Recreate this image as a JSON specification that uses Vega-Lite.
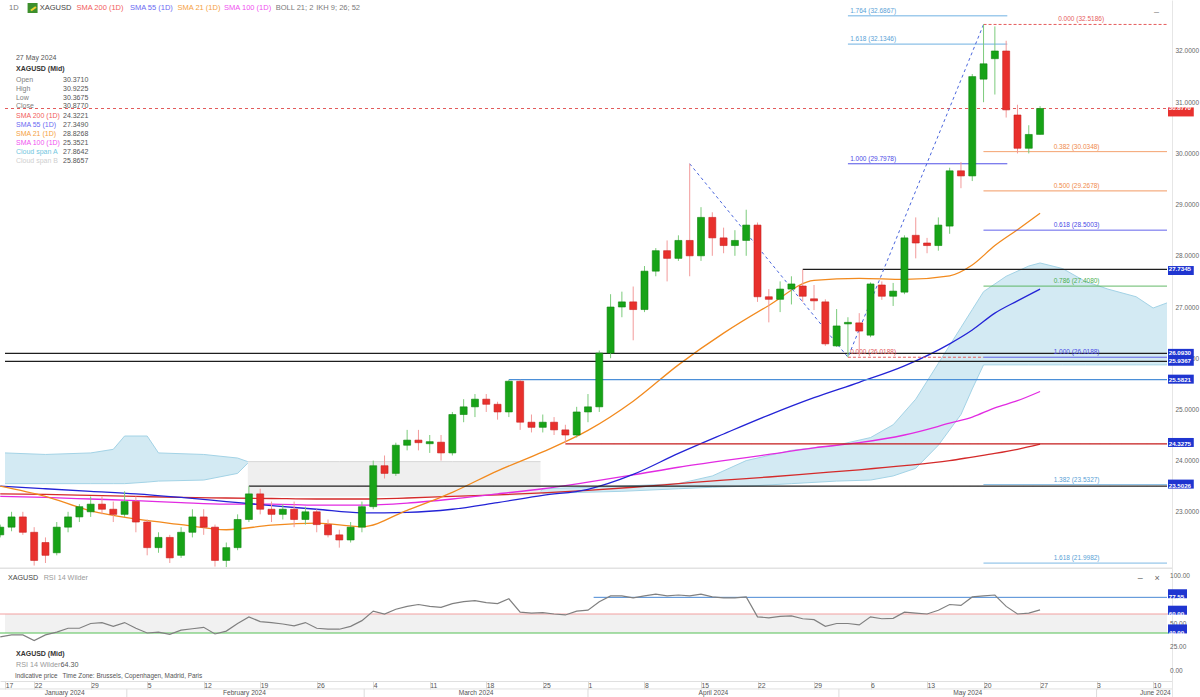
{
"$schema":"https://vega.github.io/schema/vega-lite/v6.json",
"autosize":"none",
"padding":{"left":0,"top":0,"right":28,"bottom":0},
"width":1172,
"height":697,
"background":"#ffffff",
"config":{"font":"Liberation Sans","view":{"stroke":null},"axis":{"grid":false,"ticks":false,"domainColor":"#e6e6e6","labelColor":"#666666","labelFont":"Liberation Sans","labelFontSize":6.5}},
"resolve":{"scale":{"y":"independent","color":"independent"},"axis":{"x":"independent","y":"independent"}},
"datasets":{
"candles":[
{"i":0,"o":22.55,"h":22.75,"l":22.5,"c":22.7},{"i":1,"o":22.7,"h":23.0,"l":22.62,"c":22.9},{"i":2,"o":22.9,"h":23.0,"l":22.55,"c":22.6},{"i":3,"o":22.6,"h":22.7,"l":21.95,"c":22.05},{"i":4,"o":22.4,"h":22.5,"l":22.0,"c":22.15},{"i":5,"o":22.2,"h":22.8,"l":22.15,"c":22.7},{"i":6,"o":22.7,"h":23.0,"l":22.6,"c":22.9},{"i":7,"o":22.9,"h":23.15,"l":22.8,"c":23.1},{"i":8,"o":23.0,"h":23.3,"l":22.9,"c":23.15},{"i":9,"o":23.15,"h":23.3,"l":22.95,"c":23.05},
{"i":10,"o":23.05,"h":23.2,"l":22.8,"c":22.95},{"i":11,"o":22.95,"h":23.4,"l":22.9,"c":23.2},{"i":12,"o":23.2,"h":23.3,"l":22.6,"c":22.8},{"i":13,"o":22.8,"h":22.85,"l":22.15,"c":22.3},{"i":14,"o":22.3,"h":22.6,"l":22.2,"c":22.5},{"i":15,"o":22.5,"h":22.55,"l":22.0,"c":22.1},{"i":16,"o":22.15,"h":22.7,"l":22.1,"c":22.6},{"i":17,"o":22.6,"h":23.05,"l":22.5,"c":22.9},{"i":18,"o":22.9,"h":23.05,"l":22.55,"c":22.7},{"i":19,"o":22.7,"h":22.75,"l":21.93,"c":22.05},
{"i":20,"o":22.05,"h":22.4,"l":21.92,"c":22.3},{"i":21,"o":22.3,"h":22.95,"l":22.25,"c":22.85},{"i":22,"o":22.85,"h":23.5,"l":22.8,"c":23.35},{"i":23,"o":23.35,"h":23.45,"l":22.95,"c":23.05},{"i":24,"o":23.05,"h":23.2,"l":22.8,"c":22.95},{"i":25,"o":22.95,"h":23.15,"l":22.85,"c":23.05},{"i":26,"o":23.05,"h":23.2,"l":22.7,"c":22.85},{"i":27,"o":22.85,"h":23.1,"l":22.75,"c":23.0},{"i":28,"o":23.0,"h":23.05,"l":22.6,"c":22.75},{"i":29,"o":22.75,"h":22.85,"l":22.5,"c":22.55},
{"i":30,"o":22.55,"h":22.65,"l":22.3,"c":22.45},{"i":31,"o":22.45,"h":22.8,"l":22.4,"c":22.7},{"i":32,"o":22.7,"h":23.2,"l":22.6,"c":23.1},{"i":33,"o":23.1,"h":24.0,"l":23.05,"c":23.9},{"i":34,"o":23.9,"h":24.1,"l":23.65,"c":23.75},{"i":35,"o":23.75,"h":24.35,"l":23.7,"c":24.3},{"i":36,"o":24.3,"h":24.6,"l":24.2,"c":24.4},{"i":37,"o":24.4,"h":24.6,"l":24.2,"c":24.35},{"i":38,"o":24.33,"h":24.5,"l":24.15,"c":24.37},{"i":39,"o":24.36,"h":24.5,"l":24.0,"c":24.15},
{"i":40,"o":24.15,"h":24.95,"l":24.1,"c":24.9},{"i":41,"o":24.9,"h":25.2,"l":24.75,"c":25.05},{"i":42,"o":25.05,"h":25.3,"l":24.85,"c":25.2},{"i":43,"o":25.2,"h":25.3,"l":24.95,"c":25.1},{"i":44,"o":25.1,"h":25.15,"l":24.8,"c":24.95},{"i":45,"o":24.95,"h":25.58,"l":24.85,"c":25.55},{"i":46,"o":25.55,"h":25.58,"l":24.6,"c":24.75},{"i":47,"o":24.75,"h":24.9,"l":24.55,"c":24.65},{"i":48,"o":24.65,"h":24.9,"l":24.55,"c":24.75},{"i":49,"o":24.75,"h":24.85,"l":24.5,"c":24.6},
{"i":50,"o":24.6,"h":24.7,"l":24.33,"c":24.5},{"i":51,"o":24.5,"h":25.05,"l":24.45,"c":24.95},{"i":52,"o":24.95,"h":25.3,"l":24.75,"c":25.05},{"i":53,"o":25.05,"h":26.15,"l":24.95,"c":26.1},{"i":54,"o":26.1,"h":27.25,"l":26.0,"c":27.0},{"i":55,"o":27.0,"h":27.3,"l":26.8,"c":27.1},{"i":56,"o":27.1,"h":27.4,"l":26.35,"c":26.95},{"i":57,"o":26.95,"h":27.8,"l":26.9,"c":27.7},{"i":58,"o":27.7,"h":28.15,"l":27.6,"c":28.1},{"i":59,"o":28.1,"h":28.3,"l":27.5,"c":27.95},
{"i":60,"o":27.95,"h":28.4,"l":27.9,"c":28.3},{"i":61,"o":28.3,"h":29.8,"l":27.6,"c":28.0},{"i":62,"o":28.0,"h":28.95,"l":27.9,"c":28.75},{"i":63,"o":28.75,"h":28.85,"l":28.0,"c":28.35},{"i":64,"o":28.35,"h":28.55,"l":28.05,"c":28.2},{"i":65,"o":28.2,"h":28.5,"l":28.0,"c":28.3},{"i":66,"o":28.3,"h":28.9,"l":28.0,"c":28.6},{"i":67,"o":28.6,"h":28.65,"l":27.1,"c":27.2},{"i":68,"o":27.2,"h":27.35,"l":26.7,"c":27.15},{"i":69,"o":27.15,"h":27.5,"l":26.9,"c":27.35},
{"i":70,"o":27.35,"h":27.6,"l":27.05,"c":27.45},{"i":71,"o":27.41,"h":27.73,"l":27.1,"c":27.21},{"i":72,"o":27.16,"h":27.43,"l":26.94,"c":27.12},{"i":73,"o":27.1,"h":27.15,"l":26.24,"c":26.28},{"i":74,"o":26.24,"h":26.96,"l":26.22,"c":26.63},{"i":75,"o":26.67,"h":26.8,"l":26.02,"c":26.7},{"i":76,"o":26.69,"h":26.88,"l":26.04,"c":26.53},{"i":77,"o":26.45,"h":27.48,"l":26.41,"c":27.45},{"i":78,"o":27.43,"h":27.5,"l":27.14,"c":27.21},{"i":79,"o":27.21,"h":27.47,"l":27.02,"c":27.31},
{"i":80,"o":27.29,"h":28.4,"l":27.25,"c":28.35},{"i":81,"o":28.4,"h":28.75,"l":27.95,"c":28.25},{"i":82,"o":28.25,"h":28.35,"l":28.05,"c":28.2},{"i":83,"o":28.2,"h":28.75,"l":28.1,"c":28.6},{"i":84,"o":28.58,"h":29.72,"l":28.43,"c":29.66},{"i":85,"o":29.66,"h":29.83,"l":29.32,"c":29.56},{"i":86,"o":29.56,"h":31.55,"l":29.46,"c":31.5},{"i":87,"o":31.45,"h":32.52,"l":31.0,"c":31.75},{"i":88,"o":31.85,"h":32.48,"l":31.15,"c":32.0},{"i":89,"o":32.0,"h":32.2,"l":30.7,"c":30.85},
{"i":90,"o":30.75,"h":30.95,"l":30.0,"c":30.1},{"i":91,"o":30.1,"h":30.55,"l":30.0,"c":30.37},{"i":92,"o":30.371,"h":30.9225,"l":30.3675,"c":30.877}],
"sma":[
{"i":0,"s200":23.35,"s100":23.3,"s55":23.5,"s21":23.5},{"i":4,"s200":23.34,"s100":23.28,"s55":23.45,"s21":23.3},{"i":8,"s200":23.32,"s100":23.25,"s55":23.4,"s21":23.02},{"i":12,"s200":23.3,"s100":23.22,"s55":23.35,"s21":22.86},{"i":16,"s200":23.28,"s100":23.18,"s55":23.28,"s21":22.75},{"i":20,"s200":23.27,"s100":23.15,"s55":23.2,"s21":22.65},{"i":24,"s200":23.26,"s100":23.15,"s55":23.12,"s21":22.74},{"i":28,"s200":23.25,"s100":23.13,"s55":23.05,"s21":22.78},{"i":32,"s200":23.25,"s100":23.13,"s55":22.98,"s21":22.71},{"i":36,"s200":23.27,"s100":23.17,"s55":22.99,"s21":23.03},{"i":40,"s200":23.3,"s100":23.25,"s55":23.05,"s21":23.38},{"i":44,"s200":23.33,"s100":23.35,"s55":23.18,"s21":23.8},{"i":48,"s200":23.37,"s100":23.45,"s55":23.32,"s21":24.17},{"i":52,"s200":23.42,"s100":23.58,"s55":23.44,"s21":24.59},{"i":56,"s200":23.48,"s100":23.72,"s55":23.73,"s21":25.16},{"i":60,"s200":23.55,"s100":23.87,"s55":24.14,"s21":25.87},{"i":64,"s200":23.62,"s100":24.0,"s55":24.52,"s21":26.49},{"i":68,"s200":23.68,"s100":24.12,"s55":24.89,"s21":27.03},{"i":72,"s200":23.75,"s100":24.25,"s55":25.23,"s21":27.52},{"i":76,"s200":23.82,"s100":24.35,"s55":25.53,"s21":27.56},{"i":80,"s200":23.9,"s100":24.5,"s55":25.85,"s21":27.54},{"i":84,"s200":24.0,"s100":24.73,"s55":26.28,"s21":27.61},{"i":86,"s200":24.07,"s100":24.85,"s55":26.55,"s21":27.82},{"i":88,"s200":24.14,"s100":25.03,"s55":26.88,"s21":28.2},{"i":90,"s200":24.22,"s100":25.17,"s55":27.12,"s21":28.51},{"i":92,"s200":24.32,"s100":25.35,"s55":27.35,"s21":28.83}],
"cloudUp":[
{"s":"u1","i":0.42,"a":24.15,"b":23.55},{"s":"u1","i":4,"a":24.12,"b":23.55},{"s":"u1","i":8,"a":24.15,"b":23.55},{"s":"u1","i":10,"a":24.22,"b":23.55},{"s":"u1","i":11,"a":24.48,"b":23.55},{"s":"u1","i":13,"a":24.48,"b":23.58},{"s":"u1","i":14,"a":24.15,"b":23.6},{"s":"u1","i":18,"a":24.12,"b":23.62},{"s":"u1","i":21,"a":24.05,"b":23.75},{"s":"u1","i":21.9,"a":23.98,"b":23.95},
{"s":"u2","i":47.8,"a":23.4,"b":23.38},{"s":"u2","i":48,"a":23.45,"b":23.36},{"s":"u2","i":55,"a":23.5,"b":23.4},{"s":"u2","i":60,"a":23.55,"b":23.45},{"s":"u2","i":63,"a":23.7,"b":23.48},{"s":"u2","i":66,"a":24.0,"b":23.5},{"s":"u2","i":70,"a":24.2,"b":23.55},{"s":"u2","i":74,"a":24.3,"b":23.6},{"s":"u2","i":77,"a":24.45,"b":23.62},{"s":"u2","i":79,"a":24.7,"b":23.7},{"s":"u2","i":81,"a":25.2,"b":23.85},{"s":"u2","i":83,"a":25.9,"b":24.3},{"s":"u2","i":85,"a":26.6,"b":24.9},{"s":"u2","i":86,"a":26.95,"b":25.4},{"s":"u2","i":87,"a":27.3,"b":25.87},{"s":"u2","i":89,"a":27.6,"b":25.87},{"s":"u2","i":91,"a":27.8,"b":25.87},{"s":"u2","i":92,"a":27.86,"b":25.87},{"s":"u2","i":94,"a":27.75,"b":25.87},{"s":"u2","i":96,"a":27.5,"b":25.87},{"s":"u2","i":98,"a":27.35,"b":25.87},{"s":"u2","i":100.5,"a":27.2,"b":25.87},{"s":"u2","i":102,"a":26.98,"b":25.87},{"s":"u2","i":103.23,"a":27.08,"b":25.87}],
"cloudDn":[
{"s":"d1","i":21.9,"a":23.3,"b":23.98},{"s":"d1","i":30,"a":23.3,"b":23.98},{"s":"d1","i":40,"a":23.3,"b":23.98},{"s":"d1","i":47.8,"a":23.32,"b":23.98}],
"levels":[
{"x0":0.42,"v":30.877,"kind":"last"},{"x0":71,"v":27.7345,"kind":"k"},{"x0":0.42,"v":26.093,"kind":"k"},{"x0":0.42,"v":25.9367,"kind":"k"},{"x0":45,"v":25.5821,"kind":"blue"},{"x0":50,"v":24.3275,"kind":"red"},{"x0":22,"v":23.5026,"kind":"k"}],
"fibs":[
{"x0":75,"x1":89.1,"v":32.6867,"kind":"lb","lbl":"1.764 (32.6867)","lx":75.2},
{"x0":75,"x1":89.1,"v":32.1346,"kind":"lb","lbl":"1.618 (32.1346)","lx":75.2},
{"x0":75,"x1":89.1,"v":29.7978,"kind":"b","lbl":"1.000 (29.7978)","lx":75.2},
{"x0":75,"x1":87,"v":26.0188,"kind":"r","lbl":"0.000 (26.0188)","lx":75.2},
{"x0":87,"x1":103.23,"v":32.5186,"kind":"r","lbl":"0.000 (32.5186)","lx":93.6},
{"x0":87,"x1":103.23,"v":30.0348,"kind":"o","lbl":"0.382 (30.0348)","lx":93.2},
{"x0":87,"x1":103.23,"v":29.2678,"kind":"o","lbl":"0.500 (29.2678)","lx":93.2},
{"x0":87,"x1":103.23,"v":28.5003,"kind":"b","lbl":"0.618 (28.5003)","lx":93.2},
{"x0":87,"x1":103.23,"v":27.408,"kind":"g","lbl":"0.786 (27.4080)","lx":93.2},
{"x0":87,"x1":103.23,"v":26.0188,"kind":"b","lbl":"1.000 (26.0188)","lx":93.2},
{"x0":87,"x1":103.23,"v":23.5327,"kind":"lb","lbl":"1.382 (23.5327)","lx":93.2},
{"x0":87,"x1":103.23,"v":21.9982,"kind":"lb","lbl":"1.618 (21.9982)","lx":93.2}],
"zigzag":[{"i":61,"v":29.7978},{"i":75,"v":26.0188},{"i":87,"v":32.5186}],
"hdr":[
{"i":0.77,"v":32.84,"t":"1D","k":"g"},{"i":3.49,"v":32.84,"t":"XAGUSD","k":"d"},{"i":6.74,"v":32.84,"t":"SMA 200 (1D)","k":"r"},{"i":11.47,"v":32.84,"t":"SMA 55 (1D)","k":"b"},{"i":15.68,"v":32.84,"t":"SMA 21 (1D)","k":"o"},{"i":19.8,"v":32.84,"t":"SMA 100 (1D)","k":"m"},{"i":24.37,"v":32.84,"t":"BOLL 21; 2","k":"g"},{"i":27.96,"v":32.84,"t":"IKH 9; 26; 52","k":"g"}],
"infoL":[
{"i":1.39,"v":31.863,"t":"27 May 2024","k":"d"},{"i":1.39,"v":31.434,"t":"Open","k":"g"},{"i":1.39,"v":31.258,"t":"High","k":"g"},{"i":1.39,"v":31.082,"t":"Low","k":"g"},{"i":1.39,"v":30.916,"t":"Close","k":"g"},{"i":1.39,"v":30.73,"t":"SMA 200 (1D)","k":"r"},{"i":1.39,"v":30.555,"t":"SMA 55 (1D)","k":"b"},{"i":1.39,"v":30.379,"t":"SMA 21 (1D)","k":"o"},{"i":1.39,"v":30.203,"t":"SMA 100 (1D)","k":"m"},{"i":1.39,"v":30.027,"t":"Cloud span A","k":"c"},{"i":1.39,"v":29.852,"t":"Cloud span B","k":"lg"}],
"infoR":[
{"i":7.79,"v":31.434,"t":"30.3710"},{"i":7.79,"v":31.258,"t":"30.9225"},{"i":7.79,"v":31.082,"t":"30.3675"},{"i":7.79,"v":30.916,"t":"30.8770"},{"i":7.79,"v":30.73,"t":"24.3221"},{"i":7.79,"v":30.555,"t":"27.3490"},{"i":7.79,"v":30.379,"t":"28.8268"},{"i":7.79,"v":30.203,"t":"25.3521"},{"i":7.79,"v":30.027,"t":"27.8642"},{"i":7.79,"v":29.852,"t":"25.8657"}],
"boxes":[
{"v":30.877,"t":"30.8770","kind":"last"},{"v":27.7345,"t":"27.7345","kind":"lvl"},{"v":26.093,"t":"26.0930","kind":"lvl"},{"v":25.9367,"t":"25.9367","kind":"lvl"},{"v":25.5821,"t":"25.5821","kind":"lvl"},{"v":24.3275,"t":"24.3275","kind":"lvl"},{"v":23.5026,"t":"23.5026","kind":"lvl"}],
"rsi":[
{"i":0,"v":36},{"i":1,"v":38},{"i":2,"v":38},{"i":3,"v":32},{"i":4,"v":38},{"i":5,"v":41},{"i":6,"v":45},{"i":7,"v":45},{"i":8,"v":50},{"i":9,"v":51},{"i":10,"v":47},{"i":11,"v":51},{"i":12,"v":45},{"i":13,"v":40},{"i":14,"v":41},{"i":15,"v":38.5},{"i":16,"v":43},{"i":17,"v":44.5},{"i":18,"v":46},{"i":19,"v":39},{"i":20,"v":42},{"i":21,"v":50},{"i":22,"v":57},{"i":23,"v":52},{"i":24,"v":51},{"i":25,"v":49.5},{"i":26,"v":47.5},{"i":27,"v":51},{"i":28,"v":45},{"i":29,"v":44},{"i":30,"v":44},{"i":31,"v":47},{"i":32,"v":53},{"i":33,"v":63},{"i":34,"v":60},{"i":35,"v":65},{"i":36,"v":68},{"i":37,"v":70},{"i":38,"v":68},{"i":39,"v":67},{"i":40,"v":71},{"i":41,"v":73},{"i":42,"v":74},{"i":43,"v":72},{"i":44,"v":71},{"i":45,"v":76},{"i":46,"v":62},{"i":47,"v":61},{"i":48,"v":61.5},{"i":49,"v":60},{"i":50,"v":59},{"i":51,"v":63},{"i":52,"v":64},{"i":53,"v":73},{"i":54,"v":79},{"i":55,"v":79},{"i":56,"v":77},{"i":57,"v":79},{"i":58,"v":81},{"i":59,"v":79},{"i":60,"v":80},{"i":61,"v":79},{"i":62,"v":81},{"i":63,"v":78},{"i":64,"v":77},{"i":65,"v":77},{"i":66,"v":78},{"i":67,"v":57},{"i":68,"v":56},{"i":69,"v":57.5},{"i":70,"v":58},{"i":71,"v":55},{"i":72,"v":54},{"i":73,"v":47},{"i":74,"v":50},{"i":75,"v":50},{"i":76,"v":48.5},{"i":77,"v":57},{"i":78,"v":55},{"i":79,"v":55.5},{"i":80,"v":62},{"i":81,"v":61},{"i":82,"v":60},{"i":83,"v":64},{"i":84,"v":70},{"i":85,"v":69},{"i":86,"v":78},{"i":87,"v":79},{"i":88,"v":80},{"i":89,"v":68},{"i":90,"v":60},{"i":91,"v":61},{"i":92,"v":64.3}],
"rsiBoxes":[{"v":77.55,"t":"77.55"},{"v":60,"t":"60.00"},{"v":40,"t":"40.00"}],
"rsiAxis":[{"v":100,"t":"100.00"},{"v":50,"t":"50.00"},{"v":25,"t":"25.00"},{"v":0,"t":"0.00"}],
"months":[{"i":5.7,"t":"January 2024"},{"i":21.6,"t":"February 2024"},{"i":42.1,"t":"March 2024"},{"i":63.1,"t":"April 2024"},{"i":85.6,"t":"May 2024"},{"i":102.2,"t":"June 2024"}],
"monthSep":[{"i":11.2},{"i":32.2},{"i":52},{"i":74.2},{"i":97}]
},
"layer":[
{"data":{"name":"cloudDn"},"mark":{"type":"area","color":"#efefef","clip":true},"encoding":{"x":{"field":"i","type":"quantitative","scale":{"domain":[0.42,103.23],"nice":false,"zero":false},"axis":null},"y":{"field":"a","type":"quantitative","scale":{"domain":[19.383,32.996],"nice":false,"zero":false},"axis":null},"y2":{"field":"b"},"detail":{"field":"s"}}},
{"data":{"name":"cloudDn"},"mark":{"type":"line","color":"#d6d6d6","strokeWidth":1,"clip":true},"encoding":{"x":{"field":"i","type":"quantitative","scale":{"domain":[0.42,103.23],"nice":false,"zero":false},"axis":null},"y":{"field":"b","type":"quantitative","scale":{"domain":[19.383,32.996],"nice":false,"zero":false},"axis":null},"detail":{"field":"s"}}},
{"data":{"name":"cloudUp"},"mark":{"type":"area","color":"#d3eaf3","clip":true},"encoding":{"x":{"field":"i","type":"quantitative","scale":{"domain":[0.42,103.23],"nice":false,"zero":false},"axis":null},"y":{"field":"a","type":"quantitative","scale":{"domain":[19.383,32.996],"nice":false,"zero":false},"axis":null},"y2":{"field":"b"},"detail":{"field":"s"}}},
{"data":{"name":"cloudUp"},"mark":{"type":"line","color":"#a3d3e6","strokeWidth":1,"clip":true},"encoding":{"x":{"field":"i","type":"quantitative","scale":{"domain":[0.42,103.23],"nice":false,"zero":false},"axis":null},"y":{"field":"a","type":"quantitative","scale":{"domain":[19.383,32.996],"nice":false,"zero":false},"axis":null},"detail":{"field":"s"}}},
{"data":{"name":"cloudUp"},"mark":{"type":"line","color":"#a3d3e6","strokeWidth":1,"clip":true},"encoding":{"x":{"field":"i","type":"quantitative","scale":{"domain":[0.42,103.23],"nice":false,"zero":false},"axis":null},"y":{"field":"b","type":"quantitative","scale":{"domain":[19.383,32.996],"nice":false,"zero":false},"axis":null},"detail":{"field":"s"}}},
{"data":{"name":"sma"},"mark":{"type":"line","color":"#d42a2a","strokeWidth":1.3,"interpolate":"monotone","clip":true},"encoding":{"x":{"field":"i","type":"quantitative","scale":{"domain":[0.42,103.23],"nice":false,"zero":false},"axis":null},"y":{"field":"s200","type":"quantitative","scale":{"domain":[19.383,32.996],"nice":false,"zero":false},"axis":null}}},
{"data":{"name":"sma"},"mark":{"type":"line","color":"#e22be2","strokeWidth":1.3,"interpolate":"monotone","clip":true},"encoding":{"x":{"field":"i","type":"quantitative","scale":{"domain":[0.42,103.23],"nice":false,"zero":false},"axis":null},"y":{"field":"s100","type":"quantitative","scale":{"domain":[19.383,32.996],"nice":false,"zero":false},"axis":null}}},
{"data":{"name":"sma"},"mark":{"type":"line","color":"#2323d6","strokeWidth":1.3,"interpolate":"monotone","clip":true},"encoding":{"x":{"field":"i","type":"quantitative","scale":{"domain":[0.42,103.23],"nice":false,"zero":false},"axis":null},"y":{"field":"s55","type":"quantitative","scale":{"domain":[19.383,32.996],"nice":false,"zero":false},"axis":null}}},
{"data":{"name":"sma"},"mark":{"type":"line","color":"#f28a1e","strokeWidth":1.3,"interpolate":"monotone","clip":true},"encoding":{"x":{"field":"i","type":"quantitative","scale":{"domain":[0.42,103.23],"nice":false,"zero":false},"axis":null},"y":{"field":"s21","type":"quantitative","scale":{"domain":[19.383,32.996],"nice":false,"zero":false},"axis":null}}},
{"data":{"name":"levels"},"mark":{"type":"rule","strokeWidth":1.2,"clip":true},"encoding":{"x":{"field":"x0","type":"quantitative","scale":{"domain":[0.42,103.23],"nice":false,"zero":false},"axis":null},"x2":{"datum":103.23},"y":{"field":"v","type":"quantitative","scale":{"domain":[19.383,32.996],"nice":false,"zero":false},"axis":null},"color":{"field":"kind","type":"nominal","scale":{"domain":["last","k","blue","red"],"range":["#e25b5b","#1e1e1e","#4b8fd8","#c41a1a"]},"legend":null},"strokeDash":{"condition":{"test":"datum.kind==='last'","value":[3,3]},"value":[1,0]}}},
{"data":{"name":"fibs"},"mark":{"type":"rule","strokeWidth":1,"clip":true},"encoding":{"x":{"field":"x0","type":"quantitative","scale":{"domain":[0.42,103.23],"nice":false,"zero":false},"axis":null},"x2":{"field":"x1"},"y":{"field":"v","type":"quantitative","scale":{"domain":[19.383,32.996],"nice":false,"zero":false},"axis":null},"color":{"field":"kind","type":"nominal","scale":{"domain":["lb","b","o","g","r"],"range":["#6aaee0","#4a4ae6","#f08a4b","#4caf50","#e65c5c"]},"legend":null},"strokeDash":{"condition":{"test":"datum.kind==='r'","value":[3,2]},"value":[1,0]}}},
{"data":{"name":"fibs"},"mark":{"type":"text","align":"left","baseline":"middle","dy":-5,"fontSize":6.5},"encoding":{"x":{"field":"lx","type":"quantitative","scale":{"domain":[0.42,103.23],"nice":false,"zero":false},"axis":null},"y":{"field":"v","type":"quantitative","scale":{"domain":[19.383,32.996],"nice":false,"zero":false},"axis":null},"text":{"field":"lbl"},"color":{"field":"kind","type":"nominal","scale":{"domain":["lb","b","o","g","r"],"range":["#5a9fd6","#4a4ae6","#f08a4b","#4caf50","#e65c5c"]},"legend":null}}},
{"data":{"name":"zigzag"},"mark":{"type":"line","color":"#4a66dd","strokeWidth":1,"strokeDash":[3,3],"clip":true},"encoding":{"x":{"field":"i","type":"quantitative","scale":{"domain":[0.42,103.23],"nice":false,"zero":false},"axis":null},"y":{"field":"v","type":"quantitative","scale":{"domain":[19.383,32.996],"nice":false,"zero":false},"axis":null}}},
{"data":{"name":"candles"},"mark":{"type":"rule","strokeWidth":1,"clip":true},"encoding":{"x":{"field":"i","type":"quantitative","scale":{"domain":[0.42,103.23],"nice":false,"zero":false},"axis":null},"y":{"field":"l","type":"quantitative","scale":{"domain":[19.383,32.996],"nice":false,"zero":false},"title":null,"axis":{"orient":"right","values":[23,24,25,26,27,28,29,30,31,32],"format":".4f","labelPadding":3,"domain":true,"domainColor":"#e6e6e6","labelFontSize":6.5,"labelColor":"#666666","ticks":false,"grid":false,"title":null}},"y2":{"field":"h"},"color":{"condition":{"test":"datum.c >= datum.o","value":"#7ccb7c"},"value":"#f29a9a"}}},
{"data":{"name":"candles"},"mark":{"type":"bar","orient":"vertical","width":7,"strokeWidth":0.6,"clip":true},"encoding":{"x":{"field":"i","type":"quantitative","scale":{"domain":[0.42,103.23],"nice":false,"zero":false},"axis":null},"y":{"field":"o","type":"quantitative","scale":{"domain":[19.383,32.996],"nice":false,"zero":false},"axis":null},"y2":{"field":"c"},"color":{"condition":{"test":"datum.c >= datum.o","value":"#17a317"},"value":"#e8302c"},"stroke":{"condition":{"test":"datum.c >= datum.o","value":"#0f850f"},"value":"#c82020"}}},
{"data":{"name":"hdr"},"mark":{"type":"text","align":"left","baseline":"middle","fontSize":7.5},"encoding":{"x":{"field":"i","type":"quantitative","scale":{"domain":[0.42,103.23],"nice":false,"zero":false},"axis":null},"y":{"field":"v","type":"quantitative","scale":{"domain":[19.383,32.996],"nice":false,"zero":false},"axis":null},"text":{"field":"t"},"color":{"field":"k","type":"nominal","scale":{"domain":["g","d","r","b","o","m"],"range":["#7a7a7a","#444444","#f25c5c","#6a6af2","#f5a142","#f052f0"]},"legend":null}}},
{"data":{"name":"infoL"},"mark":{"type":"text","align":"left","baseline":"middle","fontSize":7},"encoding":{"x":{"field":"i","type":"quantitative","scale":{"domain":[0.42,103.23],"nice":false,"zero":false},"axis":null},"y":{"field":"v","type":"quantitative","scale":{"domain":[19.383,32.996],"nice":false,"zero":false},"axis":null},"text":{"field":"t"},"color":{"field":"k","type":"nominal","scale":{"domain":["g","d","r","b","o","m","c","lg"],"range":["#808080","#555555","#f25c5c","#6a6af2","#f5a142","#f052f0","#72c6e0","#cfcfcf"]},"legend":null}}},
{"data":{"name":"infoR"},"mark":{"type":"text","align":"right","baseline":"middle","fontSize":7,"color":"#555555"},"encoding":{"x":{"field":"i","type":"quantitative","scale":{"domain":[0.42,103.23],"nice":false,"zero":false},"axis":null},"y":{"field":"v","type":"quantitative","scale":{"domain":[19.383,32.996],"nice":false,"zero":false},"axis":null},"text":{"field":"t"}}},
{"data":{"values":[{"i":1.39,"v":31.648,"t":"XAGUSD (Mid)"}]},"mark":{"type":"text","align":"left","baseline":"middle","fontSize":7,"fontWeight":"bold","color":"#333333"},"encoding":{"x":{"field":"i","type":"quantitative","scale":{"domain":[0.42,103.23],"nice":false,"zero":false},"axis":null},"y":{"field":"v","type":"quantitative","scale":{"domain":[19.383,32.996],"nice":false,"zero":false},"axis":null},"text":{"field":"t"}}},
{"data":{"values":[{"i":2.86,"v":32.84}]},"mark":{"type":"square","size":100,"color":"#3d8f2c","opacity":1},"encoding":{"x":{"field":"i","type":"quantitative","scale":{"domain":[0.42,103.23],"nice":false,"zero":false},"axis":null},"y":{"field":"v","type":"quantitative","scale":{"domain":[19.383,32.996],"nice":false,"zero":false},"axis":null}}},
{"data":{"values":[{"i":2.86,"v":32.84}]},"mark":{"type":"text","text":"▬","fontSize":6,"angle":-35,"color":"#f2d430","baseline":"middle","align":"center"},"encoding":{"x":{"field":"i","type":"quantitative","scale":{"domain":[0.42,103.23],"nice":false,"zero":false},"axis":null},"y":{"field":"v","type":"quantitative","scale":{"domain":[19.383,32.996],"nice":false,"zero":false},"axis":null}}},
{"data":{"values":[{"i":102.3,"v":32.77,"t":"–"}]},"mark":{"type":"text","align":"center","baseline":"middle","fontSize":9,"color":"#888888"},"encoding":{"x":{"field":"i","type":"quantitative","scale":{"domain":[0.42,103.23],"nice":false,"zero":false},"axis":null},"y":{"field":"v","type":"quantitative","scale":{"domain":[19.383,32.996],"nice":false,"zero":false},"axis":null},"text":{"field":"t"}}},
{"data":{"values":[{}]},"mark":{"type":"rule","color":"#e2e2e2","strokeWidth":1.5},"encoding":{"y":{"datum":21.9,"type":"quantitative","scale":{"domain":[19.383,32.996],"nice":false,"zero":false},"axis":null}}},
{"data":{"name":"boxes"},"mark":{"type":"bar","orient":"horizontal","height":9},"encoding":{"x":{"datum":103.32,"type":"quantitative","scale":{"domain":[0.42,103.23],"nice":false,"zero":false},"axis":null},"x2":{"datum":105.6},"y":{"field":"v","type":"quantitative","scale":{"domain":[19.383,32.996],"nice":false,"zero":false},"axis":null},"color":{"condition":{"test":"datum.kind==='last'","value":"#e8312f"},"value":"#1f35d0"}}},
{"data":{"name":"boxes"},"mark":{"type":"text","align":"left","baseline":"middle","fontSize":6.2,"fontWeight":"bold","color":"#ffffff"},"encoding":{"x":{"datum":103.38,"type":"quantitative","scale":{"domain":[0.42,103.23],"nice":false,"zero":false},"axis":null},"y":{"field":"v","type":"quantitative","scale":{"domain":[19.383,32.996],"nice":false,"zero":false},"axis":null},"text":{"field":"t"}}},
{"data":{"values":[{}]},"mark":{"type":"rect","color":"#f1f1f1"},"encoding":{"x":{"datum":0.42,"type":"quantitative","scale":{"domain":[0.42,103.23],"nice":false,"zero":false},"axis":null},"x2":{"datum":103.23},"y":{"datum":40,"type":"quantitative","scale":{"domain":[-27.36,706.32],"nice":false,"zero":false},"axis":null},"y2":{"datum":60}}},
{"data":{"values":[{}]},"mark":{"type":"rule","color":"#f2a0a0","strokeWidth":1},"encoding":{"y":{"datum":60,"type":"quantitative","scale":{"domain":[-27.36,706.32],"nice":false,"zero":false},"axis":null}}},
{"data":{"values":[{}]},"mark":{"type":"rule","color":"#55c055","strokeWidth":1},"encoding":{"y":{"datum":40,"type":"quantitative","scale":{"domain":[-27.36,706.32],"nice":false,"zero":false},"axis":null}}},
{"data":{"values":[{}]},"mark":{"type":"rule","color":"#4a88d4","strokeWidth":1},"encoding":{"x":{"datum":52.5,"type":"quantitative","scale":{"domain":[0.42,103.23],"nice":false,"zero":false},"axis":null},"x2":{"datum":103.23},"y":{"datum":77.55,"type":"quantitative","scale":{"domain":[-27.36,706.32],"nice":false,"zero":false},"axis":null}}},
{"data":{"name":"rsi"},"mark":{"type":"line","color":"#808080","strokeWidth":1.2,"clip":true},"encoding":{"x":{"field":"i","type":"quantitative","scale":{"domain":[0.42,103.23],"nice":false,"zero":false},"title":null,"axis":{"orient":"bottom","offset":-16,"values":[0.45,3,8,13,18,23,28,33,38,43,48,52,57,62,67,72,77,82,87,92,97,102],"labelExpr":"['17','22','29','5','12','19','26','4','11','18','25','1','8','15','22','29','6','13','20','27','3','10'][indexof([0.45,3,8,13,18,23,28,33,38,43,48,52,57,62,67,72,77,82,87,92,97,102], datum.value)]","ticks":true,"tickSize":8,"tickColor":"#dcdcdc","domain":true,"domainColor":"#e0e0e0","labelAlign":"left","labelBaseline":"top","labelPadding":-7,"labelDx":2,"labelFontSize":6.8,"labelColor":"#555555","labelFlush":false,"labelOverlap":false,"grid":false,"title":null}},"y":{"field":"v","type":"quantitative","scale":{"domain":[-27.36,706.32],"nice":false,"zero":false},"axis":null}}},
{"data":{"name":"rsiAxis"},"mark":{"type":"text","align":"left","baseline":"middle","fontSize":6.5,"color":"#666666"},"encoding":{"x":{"datum":103.5,"type":"quantitative","scale":{"domain":[0.42,103.23],"nice":false,"zero":false},"axis":null},"y":{"field":"v","type":"quantitative","scale":{"domain":[-27.36,706.32],"nice":false,"zero":false},"axis":null},"text":{"field":"t"}}},
{"data":{"values":[{"i":0.68,"v":97.9,"t":"XAGUSD"}]},"mark":{"type":"text","align":"left","baseline":"middle","fontSize":7.2,"color":"#444444"},"encoding":{"x":{"field":"i","type":"quantitative","scale":{"domain":[0.42,103.23],"nice":false,"zero":false},"axis":null},"y":{"field":"v","type":"quantitative","scale":{"domain":[-27.36,706.32],"nice":false,"zero":false},"axis":null},"text":{"field":"t"}}},
{"data":{"values":[{"i":3.84,"v":97.9,"t":"RSI 14 Wilder"},{"i":1.39,"v":6.3,"t":"RSI 14 Wilder"}]},"mark":{"type":"text","align":"left","baseline":"middle","fontSize":7.2,"color":"#999999"},"encoding":{"x":{"field":"i","type":"quantitative","scale":{"domain":[0.42,103.23],"nice":false,"zero":false},"axis":null},"y":{"field":"v","type":"quantitative","scale":{"domain":[-27.36,706.32],"nice":false,"zero":false},"axis":null},"text":{"field":"t"}}},
{"data":{"values":[{"i":5.33,"v":6.3,"t":"64.30"}]},"mark":{"type":"text","align":"left","baseline":"middle","fontSize":7.2,"color":"#555555"},"encoding":{"x":{"field":"i","type":"quantitative","scale":{"domain":[0.42,103.23],"nice":false,"zero":false},"axis":null},"y":{"field":"v","type":"quantitative","scale":{"domain":[-27.36,706.32],"nice":false,"zero":false},"axis":null},"text":{"field":"t"}}},
{"data":{"values":[{"i":1.39,"v":17.9,"t":"XAGUSD (Mid)"}]},"mark":{"type":"text","align":"left","baseline":"middle","fontSize":7,"fontWeight":"bold","color":"#333333"},"encoding":{"x":{"field":"i","type":"quantitative","scale":{"domain":[0.42,103.23],"nice":false,"zero":false},"axis":null},"y":{"field":"v","type":"quantitative","scale":{"domain":[-27.36,706.32],"nice":false,"zero":false},"axis":null},"text":{"field":"t"}}},
{"data":{"values":[{"i":1.3,"v":-5.3,"t":"Indicative price"},{"i":5.51,"v":-5.3,"t":"Time Zone: Brussels, Copenhagen, Madrid, Paris"}]},"mark":{"type":"text","align":"left","baseline":"middle","fontSize":6.4,"color":"#555555"},"encoding":{"x":{"field":"i","type":"quantitative","scale":{"domain":[0.42,103.23],"nice":false,"zero":false},"axis":null},"y":{"field":"v","type":"quantitative","scale":{"domain":[-27.36,706.32],"nice":false,"zero":false},"axis":null},"text":{"field":"t"}}},
{"data":{"values":[{"i":100.86,"v":97.5,"t":"–"},{"i":102.35,"v":97.5,"t":"×"}]},"mark":{"type":"text","align":"center","baseline":"middle","fontSize":9,"color":"#666666"},"encoding":{"x":{"field":"i","type":"quantitative","scale":{"domain":[0.42,103.23],"nice":false,"zero":false},"axis":null},"y":{"field":"v","type":"quantitative","scale":{"domain":[-27.36,706.32],"nice":false,"zero":false},"axis":null},"text":{"field":"t"}}},
{"data":{"name":"rsiBoxes"},"mark":{"type":"bar","orient":"horizontal","height":9,"color":"#1f35d0"},"encoding":{"x":{"datum":103.32,"type":"quantitative","scale":{"domain":[0.42,103.23],"nice":false,"zero":false},"axis":null},"x2":{"datum":105.0},"y":{"field":"v","type":"quantitative","scale":{"domain":[-27.36,706.32],"nice":false,"zero":false},"axis":null}}},
{"data":{"name":"rsiBoxes"},"mark":{"type":"text","align":"left","baseline":"middle","fontSize":6.2,"fontWeight":"bold","color":"#ffffff"},"encoding":{"x":{"datum":103.38,"type":"quantitative","scale":{"domain":[0.42,103.23],"nice":false,"zero":false},"axis":null},"y":{"field":"v","type":"quantitative","scale":{"domain":[-27.36,706.32],"nice":false,"zero":false},"axis":null},"text":{"field":"t"}}},
{"data":{"values":[{}]},"mark":{"type":"rule","color":"#e0e0e0","strokeWidth":1},"encoding":{"y":{"datum":-18.9,"type":"quantitative","scale":{"domain":[-27.36,706.32],"nice":false,"zero":false},"axis":null}}},
{"data":{"name":"monthSep"},"mark":{"type":"rule","color":"#dcdcdc","strokeWidth":1},"encoding":{"x":{"field":"i","type":"quantitative","scale":{"domain":[0.42,103.23],"nice":false,"zero":false},"axis":null},"y":{"datum":-18.9,"type":"quantitative","scale":{"domain":[-27.36,706.32],"nice":false,"zero":false},"axis":null},"y2":{"datum":-27.36}}},
{"data":{"name":"months"},"mark":{"type":"text","align":"center","baseline":"middle","fontSize":6.6,"color":"#555555"},"encoding":{"x":{"field":"i","type":"quantitative","scale":{"domain":[0.42,103.23],"nice":false,"zero":false},"axis":null},"y":{"datum":-23.2,"type":"quantitative","scale":{"domain":[-27.36,706.32],"nice":false,"zero":false},"axis":null},"text":{"field":"t"}}}
]
}
